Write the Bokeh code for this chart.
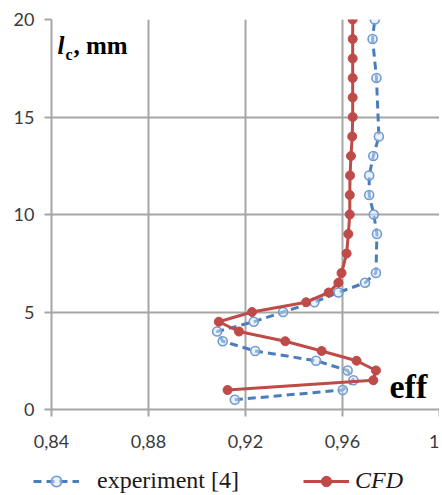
from bokeh.plotting import figure
from bokeh.layouts import column, row
from bokeh.models import (ColumnDataSource, FixedTicker, Legend, LegendItem, Label, Range1d)
from bokeh.embed import file_html
from bokeh.resources import INLINE

# ---- data ----
exp_y = [0.5, 1.0, 1.5, 2.0, 2.5, 3.0, 3.5, 4.0, 4.5, 5.0, 5.5, 6.0, 6.5, 7.0,
         9.0, 10.0, 11.0, 12.0, 13.0, 14.0, 17.0, 19.0, 20.0]
exp_x = [0.9156, 0.9601, 0.9645, 0.9621, 0.9491, 0.9240, 0.9106, 0.9083, 0.9234,
         0.9355, 0.9484, 0.9583, 0.9693, 0.9738, 0.9742, 0.9729, 0.9710, 0.9710,
         0.9727, 0.9750, 0.9740, 0.9724, 0.9733]

cfd_y = [1.0, 1.5, 2.0, 2.5, 3.0, 3.5, 4.0, 4.5, 5.0, 5.5, 6.0, 6.5, 7.0,
         8.0, 9.0, 10.0, 11.0, 12.0, 13.0, 14.0, 15.0, 16.0, 17.0, 18.0, 19.0, 20.0]
cfd_x = [0.9126, 0.9727, 0.9738, 0.9658, 0.9514, 0.9364, 0.9173, 0.9090, 0.9227,
         0.9450, 0.9543, 0.9583, 0.9596, 0.9617, 0.9624, 0.9630, 0.9630, 0.9631,
         0.9635, 0.9640, 0.9642, 0.9642, 0.9642, 0.9642, 0.9642, 0.9642]

x_ticks = [0.84, 0.88, 0.92, 0.96, 1.0]
x_tick_labels = ["0,84", "0,88", "0,92", "0,96", "1"]
y_ticks = [0, 5, 10, 15, 20]

exp_label = "experiment [4]"
cfd_label = "CFD"

BLUE = "#4a7ebb"
BLUE_MK = "#6f9bd6"
RED = "#be4b48"
GRID = "#a6a6a6"

p = figure(frame_width=388, frame_height=390,
           min_border_left=51, min_border_right=0, min_border_top=19, min_border_bottom=50,
           x_range=Range1d(0.84, 1.0), y_range=Range1d(0, 20),
           output_backend="svg", toolbar_location=None,
           background_fill_color="white", border_fill_color="white")
p.outline_line_color = None

p.xaxis.ticker = FixedTicker(ticks=x_ticks)
p.xaxis.major_label_overrides = {t: l for t, l in zip(x_ticks, x_tick_labels)}
p.yaxis.ticker = FixedTicker(ticks=y_ticks)

for ax in (p.xaxis, p.yaxis):
    ax.axis_line_color = GRID
    ax.axis_line_width = 2
    ax.major_tick_line_color = GRID
    ax.major_tick_line_width = 2
    ax.major_tick_out = 7
    ax.major_tick_in = 0
    ax.minor_tick_line_color = None
    ax.major_label_text_font = "Lato"
    ax.major_label_text_font_size = "18px"
    ax.major_label_text_color = "#3a3a3a"
p.xaxis.major_label_standoff = 18
p.yaxis.major_label_standoff = 10

p.xgrid.grid_line_color = GRID
p.xgrid.grid_line_width = 2
p.ygrid.grid_line_color = GRID
p.ygrid.grid_line_width = 2

exp_src = ColumnDataSource(data=dict(x=exp_x, y=exp_y))
cfd_src = ColumnDataSource(data=dict(x=cfd_x, y=cfd_y))

exp_line = dict(line_color=BLUE, line_width=3, line_dash="8 5")
exp_mark = dict(marker="circle", size=9, line_color=BLUE_MK, line_width=1.6,
                fill_color="#dbe6f5", fill_alpha=0.5)
cfd_line = dict(line_color=RED, line_width=3)
cfd_mark = dict(marker="circle", size=9, line_color=RED, fill_color=RED)

p.line("x", "y", source=exp_src, **exp_line)
p.scatter("x", "y", source=exp_src, **exp_mark)
p.line("x", "y", source=cfd_src, **cfd_line)
p.scatter("x", "y", source=cfd_src, **cfd_mark)

# axis annotation texts
p.add_layout(Label(x=6, y=351, x_units="screen", y_units="screen", text="l",
                   text_font="Liberation Serif", text_font_size="25px",
                   text_font_style="bold italic", text_color="black"))
p.add_layout(Label(x=14, y=347, x_units="screen", y_units="screen", text="c",
                   text_font="Liberation Serif", text_font_size="16px",
                   text_font_style="bold", text_color="black"))
p.add_layout(Label(x=22, y=351, x_units="screen", y_units="screen", text=", mm",
                   text_font="Liberation Serif", text_font_size="25px",
                   text_font_style="bold", text_color="black"))
p.add_layout(Label(x=338, y=5, x_units="screen", y_units="screen", text="eff",
                   text_font="Liberation Serif", text_font_size="34px",
                   text_font_style="bold", text_color="black"))

# ---- legend strip below the chart (renderers hold no visible point) ----
q = figure(frame_width=439, frame_height=36, min_border=0,
           x_range=Range1d(0, 1), y_range=Range1d(0, 1),
           x_axis_location=None, y_axis_location=None,
           output_backend="svg", toolbar_location=None, outline_line_color=None,
           background_fill_color="white", border_fill_color="white")
q.grid.visible = False
nan = float("nan")
placeholder = ColumnDataSource(data=dict(x=[nan], y=[nan]))
qel = q.line("x", "y", source=placeholder, **exp_line)
qes = q.scatter("x", "y", source=placeholder, **exp_mark)
qcl = q.line("x", "y", source=placeholder, **cfd_line)
qcs = q.scatter("x", "y", source=placeholder, **cfd_mark)

leg_common = dict(padding=0, margin=0, border_line_color=None, background_fill_alpha=0,
                  glyph_width=46, glyph_height=26, label_height=26,
                  label_text_font="Liberation Serif", label_text_font_size="24px",
                  label_text_color="#1a1a1a", orientation="horizontal")
leg1 = Legend(items=[LegendItem(label=exp_label, renderers=[qel, qes])],
              location=(33, 1), label_standoff=18, **leg_common)
leg2 = Legend(items=[LegendItem(label=cfd_label, renderers=[qcl, qcs])],
              location=(303, 1), label_standoff=6, label_text_font_style="italic",
              **leg_common)
q.add_layout(leg1, "center")
q.add_layout(leg2, "center")

layout = column(p, row(q, spacing=0), spacing=0)
open("out.html", "w").write(file_html(layout, INLINE))
